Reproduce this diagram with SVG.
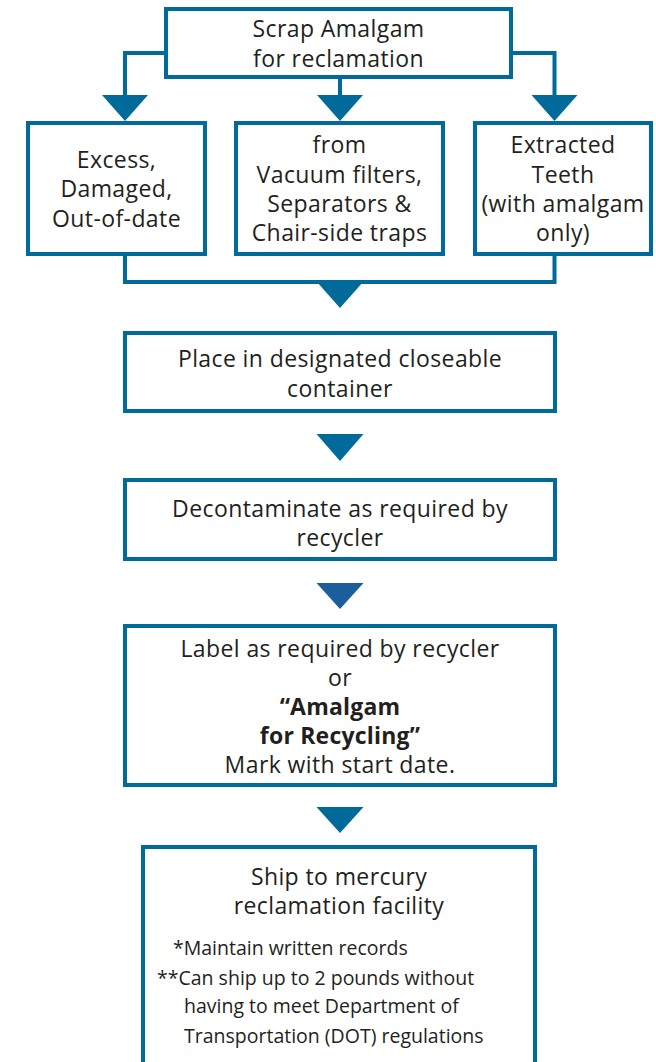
<svg xmlns="http://www.w3.org/2000/svg" width="656" height="1062" viewBox="0 0 656 1062">
<style>
.box{fill:#ffffff;stroke:#006a9a;stroke-width:4}
.ln{fill:none;stroke:#006a9a;stroke-width:4}
.ar{fill:#006a9a}
.t{font-family:"Open Sans","Noto Sans",sans-serif;font-size:23px;letter-spacing:0.4px;fill:#231f20;text-anchor:middle}
.b{font-weight:bold;letter-spacing:0.2px}
.s{font-family:"Open Sans","Noto Sans",sans-serif;font-size:19.5px;fill:#231f20}
</style>
<rect width="656" height="1062" fill="#ffffff"/>
<g id="connectors">
<path class="ln" d="M166 53 H125 V100"/>
<path class="ln" d="M340 77 V100"/>
<path class="ln" d="M511 53 H554.5 V100"/>
<polygon class="ar" points="102,95 148,95 125,121"/>
<polygon class="ar" points="317,95 363,95 340,121"/>
<polygon class="ar" points="531.5,95 577.5,95 554.5,121"/>
<path class="ln" d="M125 254 V282 H554.5 V254"/>
<polygon class="ar" points="317,282 363,282 340,308"/>
<polygon class="ar" points="316.5,434 363.5,434 340,461"/>
<polygon points="316.5,583 363.5,583 340,609" fill="#1b5e9b"/>
<polygon class="ar" points="316.5,807 363.5,807 340,833"/>
</g>
<g id="n-scrap">
<rect class="box" x="166" y="9" width="345" height="68"/>
<text class="t" x="338.5" y="37">Scrap Amalgam</text>
<text class="t" x="338.5" y="67">for reclamation</text>
</g>
<g id="n-excess">
<rect class="box" x="28" y="123" width="177" height="131"/>
<text class="t" x="116.5" y="168">Excess,</text>
<text class="t" x="116.5" y="197">Damaged,</text>
<text class="t" x="116.5" y="227">Out-of-date</text>
</g>
<g id="n-from">
<rect class="box" x="236" y="123" width="207" height="131"/>
<text class="t" x="339.5" y="153">from</text>
<text class="t" x="339.5" y="183">Vacuum filters,</text>
<text class="t" x="339.5" y="212">Separators &amp;</text>
<text class="t" x="339.5" y="241">Chair-side traps</text>
</g>
<g id="n-teeth">
<rect class="box" x="475" y="123" width="176" height="131"/>
<text class="t" x="563" y="153">Extracted</text>
<text class="t" x="563" y="183">Teeth</text>
<text class="t" x="563" y="212">(with amalgam</text>
<text class="t" x="563" y="241">only)</text>
</g>
<g id="n-place">
<rect class="box" x="125" y="333" width="430" height="78"/>
<text class="t" x="340" y="367">Place in designated closeable</text>
<text class="t" x="340" y="397">container</text>
</g>
<g id="n-decon">
<rect class="box" x="125" y="480" width="430" height="79"/>
<text class="t" x="340" y="517">Decontaminate as required by</text>
<text class="t" x="340" y="546">recycler</text>
</g>
<g id="n-label">
<rect class="box" x="125" y="626" width="430" height="159"/>
<text class="t" x="340" y="656.5">Label as required by recycler</text>
<text class="t" x="340" y="685.5">or</text>
<text class="t b" x="340" y="714.5">“Amalgam</text>
<text class="t b" x="340" y="743.5">for Recycling”</text>
<text class="t" x="340" y="772.5">Mark with start date.</text>
</g>
<g id="n-ship">
<rect class="box" x="143" y="847" width="392" height="220"/>
<text class="t" x="339" y="885">Ship to mercury</text>
<text class="t" x="339" y="914">reclamation facility</text>
<text class="s" x="173" y="955">*Maintain written records</text>
<text class="s" x="157" y="985">**Can ship up to 2 pounds without</text>
<text class="s" x="184" y="1013">having to meet Department of</text>
<text class="s" x="184" y="1043">Transportation (DOT) regulations</text>
</g>
</svg>
